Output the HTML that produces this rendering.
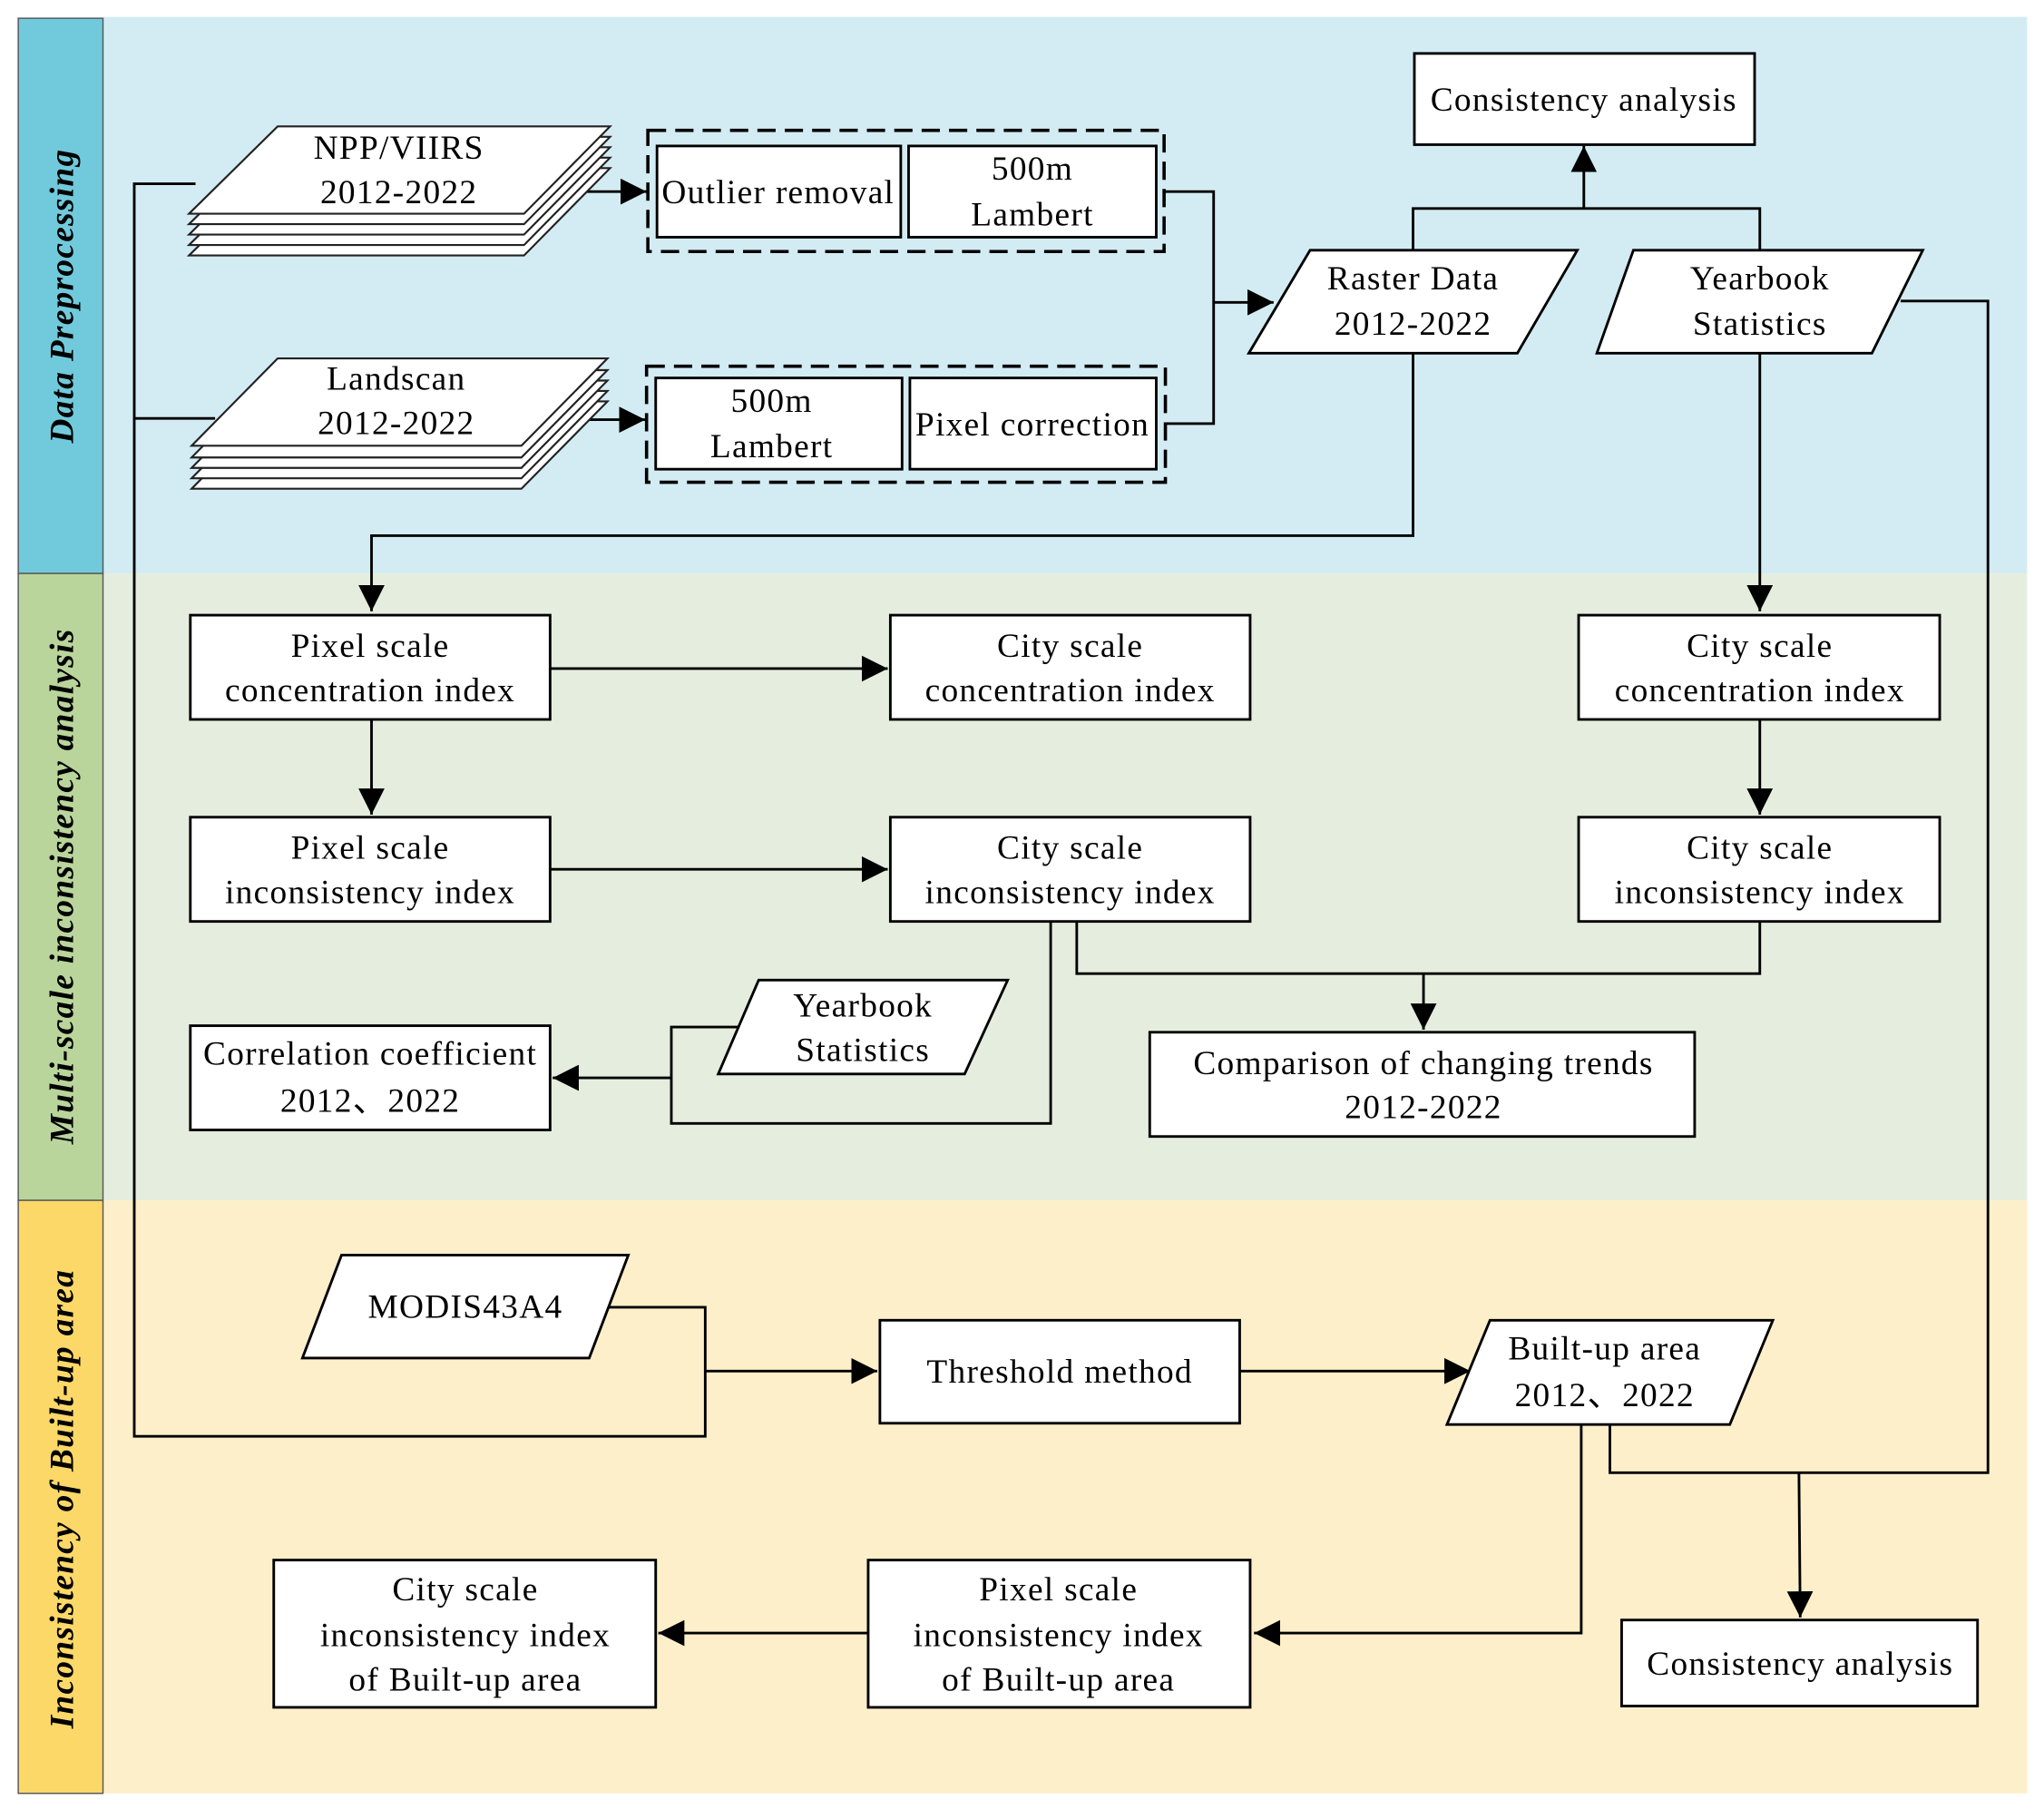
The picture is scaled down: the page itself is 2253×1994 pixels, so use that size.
<!DOCTYPE html>
<html><head><meta charset="utf-8"><style>
html,body{margin:0;padding:0;background:#fff}
svg{display:block}
text{font-family:"Liberation Serif",serif;font-size:26px;fill:#000;letter-spacing:0.9px}
</style></head><body>
<svg width="2253" height="1994" viewBox="0 0 1568 1388" preserveAspectRatio="none" xmlns="http://www.w3.org/2000/svg">
<defs>
<marker id="b" viewBox="0 0 10 10" refX="10" refY="5" markerWidth="10" markerHeight="10" orient="auto"><path d="M0,0L10,5L0,10z" fill="#000"/></marker></defs>
<rect x="0" y="0" width="1568" height="1388" fill="#fff"/>
<rect x="79" y="13" width="1476" height="427" fill="#d3ecf3"/>
<rect x="79" y="440" width="1476" height="481" fill="#e5eede"/>
<rect x="79" y="921" width="1476" height="455" fill="#fdefca"/>
<rect x="14" y="14" width="65" height="426" fill="#71cadb" stroke="#555" stroke-width="1"/>
<rect x="14" y="440" width="65" height="481" fill="#b9d59b" stroke="#555" stroke-width="1"/>
<rect x="14" y="921" width="65" height="455" fill="#fcd868" stroke="#555" stroke-width="1"/>
<g style="font-weight:bold;font-style:italic">
<text transform="translate(56,227) rotate(-90)" text-anchor="middle">Data Preprocessing</text>
<text transform="translate(56,680) rotate(-90)" text-anchor="middle">Multi-scale inconsistency analysis</text>
<text transform="translate(56,1150) rotate(-90)" text-anchor="middle">Inconsistency of Built-up area</text>
</g>
<g fill="none" stroke="#000" stroke-width="2">
<polyline points="150,141 103,141 103,1102 541,1102 541,1003 465,1003"/>
<line x1="103" y1="321" x2="165" y2="321"/>
<line x1="541" y1="1052" x2="673" y2="1052" marker-end="url(#b)"/>
<line x1="432" y1="147" x2="496" y2="147" marker-end="url(#b)"/>
<line x1="432" y1="322" x2="495" y2="322" marker-end="url(#b)"/>
<polyline points="893,147 931,147 931,325 894,325"/>
<line x1="931" y1="232" x2="977" y2="232" marker-end="url(#b)"/>
<polyline points="1084,192 1084,160 1350,160 1350,192"/>
<line x1="1215" y1="160" x2="1215" y2="112" marker-end="url(#b)"/>
<polyline points="1084,271 1084,411 285,411 285,469" marker-end="url(#b)"/>
<line x1="1350" y1="271" x2="1350" y2="469" marker-end="url(#b)"/>
<polyline points="1458,231 1525,231 1525,1130 1235,1130 1235,1093"/>
<line x1="1380" y1="1130" x2="1381" y2="1241" marker-end="url(#b)"/>
<line x1="422" y1="513" x2="681" y2="513" marker-end="url(#b)"/>
<line x1="285" y1="552" x2="285" y2="625" marker-end="url(#b)"/>
<line x1="422" y1="667" x2="681" y2="667" marker-end="url(#b)"/>
<line x1="1350" y1="552" x2="1350" y2="625" marker-end="url(#b)"/>
<polyline points="806,707 806,862 515,862 515,788 566,788"/>
<line x1="515" y1="827" x2="424" y2="827" marker-end="url(#b)"/>
<polyline points="826,707 826,747 1350,747 1350,707"/>
<line x1="1092" y1="747" x2="1092" y2="790" marker-end="url(#b)"/>
<line x1="951" y1="1052" x2="1128" y2="1052" marker-end="url(#b)"/>
<polyline points="1213,1093 1213,1253 962,1253" marker-end="url(#b)"/>
<line x1="666" y1="1253" x2="505" y2="1253" marker-end="url(#b)"/>
</g>
<g fill="#fff" stroke="#222" stroke-width="1.5">
<path d="M213,129 L468,129 L402,196 L145,196 Z"/>
<path d="M213,121 L468,121 L402,188 L145,188 Z"/>
<path d="M213,113 L468,113 L402,180 L145,180 Z"/>
<path d="M213,105 L468,105 L402,172 L145,172 Z"/>
<path d="M213,97 L468,97 L402,164 L145,164 Z"/>
<path d="M213,308 L466,308 L400,375 L147,375 Z"/>
<path d="M213,300 L466,300 L400,367 L147,367 Z"/>
<path d="M213,292 L466,292 L400,359 L147,359 Z"/>
<path d="M213,284 L466,284 L400,351 L147,351 Z"/>
<path d="M213,275 L466,275 L400,342 L147,342 Z"/>
</g>
<text x="306" y="122" text-anchor="middle">NPP/VIIRS</text>
<text x="306" y="156" text-anchor="middle">2012-2022</text>
<text x="304" y="299" text-anchor="middle">Landscan</text>
<text x="304" y="333" text-anchor="middle">2012-2022</text>
<g fill="none" stroke="#000" stroke-width="2.5" stroke-dasharray="14,7">
<rect x="497" y="100" width="396" height="93"/>
<rect x="496" y="281" width="398" height="89"/>
</g>
<g fill="#fff" stroke="#000" stroke-width="2">
<rect x="504" y="112" width="187" height="70"/>
<rect x="697" y="112" width="190" height="70"/>
<rect x="503" y="290" width="189" height="70"/>
<rect x="698" y="290" width="189" height="70"/>
<rect x="1085" y="41" width="261" height="70"/>
<path d="M1005,192 L1210,192 L1164,271 L958,271 Z"/>
<path d="M1253,192 L1475,192 L1436,271 L1225,271 Z"/>
<rect x="146" y="472" width="276" height="80"/>
<rect x="683" y="472" width="276" height="80"/>
<rect x="1211" y="472" width="277" height="80"/>
<rect x="146" y="627" width="276" height="80"/>
<rect x="683" y="627" width="276" height="80"/>
<rect x="1211" y="627" width="277" height="80"/>
<rect x="146" y="787" width="276" height="80"/>
<path d="M582,752 L773,752 L740,824 L551,824 Z"/>
<rect x="882" y="792" width="418" height="80"/>
<path d="M262,963 L482,963 L452,1042 L232,1042 Z"/>
<rect x="675" y="1013" width="276" height="79"/>
<path d="M1143,1013 L1360,1013 L1327,1093 L1110,1093 Z"/>
<rect x="666" y="1197" width="293" height="113"/>
<rect x="210" y="1197" width="293" height="113"/>
<rect x="1244" y="1243" width="273" height="66"/>
</g>
<g text-anchor="middle">
<text x="597" y="156">Outlier removal</text>
<text x="792" y="138">500m</text>
<text x="792" y="173">Lambert</text>
<text x="592" y="316">500m</text>
<text x="592" y="351">Lambert</text>
<text x="792" y="334">Pixel correction</text>
<text x="1215" y="85">Consistency analysis</text>
<text x="1084" y="222">Raster Data</text>
<text x="1084" y="257">2012-2022</text>
<text x="1350" y="222">Yearbook</text>
<text x="1350" y="257">Statistics</text>
<text x="284" y="504">Pixel scale</text>
<text x="284" y="538">concentration index</text>
<text x="821" y="504">City scale</text>
<text x="821" y="538">concentration index</text>
<text x="1350" y="504">City scale</text>
<text x="1350" y="538">concentration index</text>
<text x="284" y="659">Pixel scale</text>
<text x="284" y="693">inconsistency index</text>
<text x="821" y="659">City scale</text>
<text x="821" y="693">inconsistency index</text>
<text x="1350" y="659">City scale</text>
<text x="1350" y="693">inconsistency index</text>
<text x="284" y="817">Correlation coefficient</text>
<text x="284" y="853">2012、2022</text>
<text x="662" y="780">Yearbook</text>
<text x="662" y="814">Statistics</text>
<text x="1092" y="824">Comparison of changing trends</text>
<text x="1092" y="858">2012-2022</text>
<text x="357" y="1011">MODIS43A4</text>
<text x="813" y="1061">Threshold method</text>
<text x="1231" y="1043">Built-up area</text>
<text x="1231" y="1079">2012、2022</text>
<text x="812" y="1228">Pixel scale</text>
<text x="812" y="1263">inconsistency index</text>
<text x="812" y="1297">of Built-up area</text>
<text x="357" y="1228">City scale</text>
<text x="357" y="1263">inconsistency index</text>
<text x="357" y="1297">of Built-up area</text>
<text x="1381" y="1285">Consistency analysis</text>
</g>
</svg>
</body></html>
